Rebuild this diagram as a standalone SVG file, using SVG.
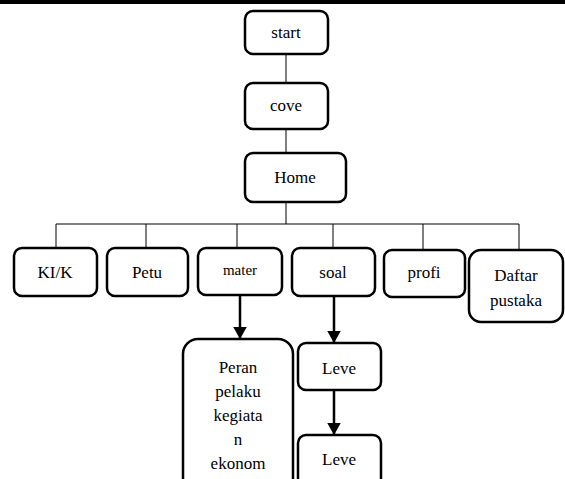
<svg xmlns="http://www.w3.org/2000/svg" width="565" height="479" viewBox="0 0 565 479">
<style>
.box{fill:#fff;stroke:#000;stroke-width:2.5}
.t{font-family:"Liberation Serif","Times New Roman",serif;font-size:17px;fill:#000;text-anchor:middle}
.ln{stroke:#000;stroke-width:1;fill:none}
.ar{stroke:#000;stroke-width:2.5;fill:none}
</style>
<defs>
<marker id="ah" markerWidth="5" markerHeight="5.6" refX="4.6" refY="2.8" orient="auto" markerUnits="strokeWidth">
<path d="M0,0 L5,2.8 L0,5.6 Z" fill="#000"/>
</marker>
</defs>
<rect x="0" y="0" width="565" height="4" fill="#000"/>
<g id="connectors">
<line class="ln" x1="286" y1="54" x2="286" y2="83"/>
<line class="ln" x1="286" y1="129" x2="286" y2="153"/>
<line class="ln" x1="286" y1="202" x2="286" y2="224"/>
<line class="ln" x1="56" y1="224" x2="519" y2="224"/>
<line class="ln" x1="56" y1="224" x2="56" y2="248"/>
<line class="ln" x1="146" y1="224" x2="146" y2="248"/>
<line class="ln" x1="237" y1="224" x2="237" y2="248"/>
<line class="ln" x1="333" y1="224" x2="333" y2="248"/>
<line class="ln" x1="423" y1="224" x2="423" y2="250"/>
<line class="ln" x1="519" y1="224" x2="519" y2="250"/>
<line class="ar" x1="240" y1="296" x2="240" y2="338" marker-end="url(#ah)"/>
<line class="ar" x1="334" y1="296" x2="334" y2="342" marker-end="url(#ah)"/>
<line class="ar" x1="334" y1="390" x2="334" y2="434" marker-end="url(#ah)"/>
</g>
<g id="start"><rect class="box" x="245" y="11" width="83" height="43" rx="8"/><text class="t" x="286" y="38">start</text></g>
<g id="cove"><rect class="box" x="245" y="83" width="83" height="46" rx="8"/><text class="t" x="286" y="111">cove</text></g>
<g id="home"><rect class="box" x="245" y="153" width="101" height="49" rx="8"/><text class="t" x="295" y="183">Home</text></g>
<g id="kik"><rect class="box" x="14" y="248" width="83" height="48" rx="8"/><text class="t" x="55" y="278">KI/K</text></g>
<g id="petu"><rect class="box" x="107" y="248" width="81" height="48" rx="8"/><text class="t" x="147" y="278">Petu</text></g>
<g id="mater"><rect class="box" x="198" y="248" width="84" height="47" rx="8"/><text class="t" x="240" y="275" style="font-size:15px">mater</text></g>
<g id="soal"><rect class="box" x="292" y="248" width="83" height="48" rx="8"/><text class="t" x="333" y="278">soal</text></g>
<g id="profi"><rect class="box" x="384" y="250" width="81" height="47" rx="8"/><text class="t" x="424" y="278">profi</text></g>
<g id="daftar"><rect class="box" x="469" y="250" width="94" height="72" rx="12"/><text class="t" x="516" y="281">Daftar</text><text class="t" x="516" y="306">pustaka</text></g>
<g id="peran"><rect class="box" x="183" y="339" width="110" height="160" rx="15"/><text class="t" x="238" y="373">Peran</text><text class="t" x="238" y="397">pelaku</text><text class="t" x="238" y="421">kegiata</text><text class="t" x="238" y="445">n</text><text class="t" x="238" y="469">ekonom</text></g>
<g id="leve1"><rect class="box" x="298" y="343" width="83" height="47" rx="8"/><text class="t" x="339" y="374">Leve</text></g>
<g id="leve2"><rect class="box" x="298" y="435" width="83" height="60" rx="8"/><text class="t" x="339" y="465">Leve</text></g>
</svg>
